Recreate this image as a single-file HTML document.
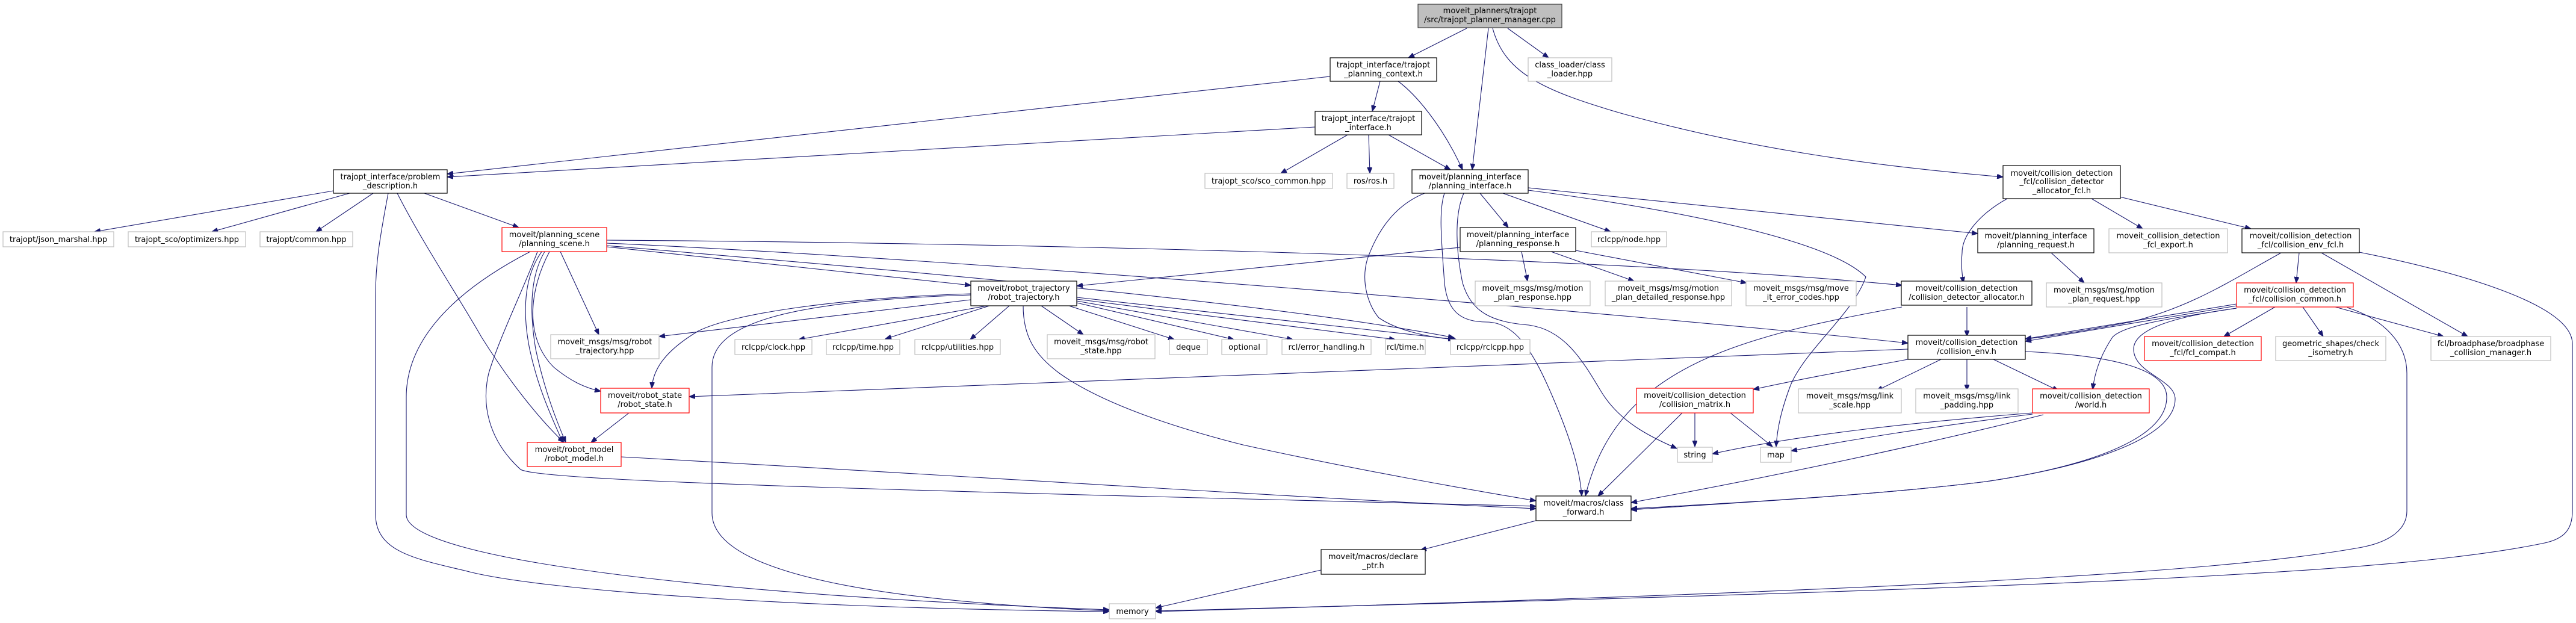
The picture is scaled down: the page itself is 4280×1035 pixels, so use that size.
<!DOCTYPE html>
<html><head><meta charset="utf-8"><style>
html,body{margin:0;padding:0;background:#fff;}
svg{display:block;}
text{font-family:"DejaVu Sans","Liberation Sans",sans-serif;font-size:13px;fill:#000;text-anchor:middle;}
.n{fill:#fff;stroke:#000;stroke-width:1.2;}
.r{fill:#fff;stroke:#ff0000;stroke-width:1.2;}
.g{fill:#fff;stroke:#bfbfbf;stroke-width:1.2;}
.e{fill:none;stroke:#191970;stroke-width:1.1;}
</style></head><body>
<svg width="4280" height="1035" viewBox="0 0 4280 1035" xmlns="http://www.w3.org/2000/svg">
<defs><marker id="a" markerUnits="userSpaceOnUse" markerWidth="11" markerHeight="8" refX="10" refY="4" orient="auto"><path d="M0,0 L10,4 L0,8 z" fill="#191970" stroke="#191970"/></marker></defs>
<g class="edges">
<!-- manager -->
<path class="e" marker-end="url(#a)" d="M2437,47 L2340,96"/>
<path class="e" marker-end="url(#a)" d="M2473,47 L2446,282"/>
<path class="e" marker-end="url(#a)" d="M2505,47 L2573,96"/>
<path class="e" marker-end="url(#a)" d="M2480,47 C2500,120 2560,150 2700,190 C2900,245 3100,275 3328,294"/>
<!-- planning_context -->
<path class="e" marker-end="url(#a)" d="M2210,127 L743,289"/>
<path class="e" marker-end="url(#a)" d="M2293,135 L2280,185"/>
<path class="e" marker-end="url(#a)" d="M2323,135 C2350,155 2395,205 2430,282"/>
<!-- trajopt_interface -->
<path class="e" marker-end="url(#a)" d="M2185,211 L743,294"/>
<path class="e" marker-end="url(#a)" d="M2239,224 L2128,288"/>
<path class="e" marker-end="url(#a)" d="M2274,224 L2276,288"/>
<path class="e" marker-end="url(#a)" d="M2307,224 L2410,282"/>
<!-- problem_description -->
<path class="e" marker-end="url(#a)" d="M554,317 L157,385"/>
<path class="e" marker-end="url(#a)" d="M581,321 L352,385"/>
<path class="e" marker-end="url(#a)" d="M620,321 L525,385"/>
<path class="e" marker-end="url(#a)" d="M705,321 L862,378"/>
<path class="e" marker-end="url(#a)" d="M645,321 C630,400 624,440 624,490 L624,855 C624,920 700,930 780,950 C900,980 1300,1010 1843,1016"/>
<path class="e" marker-end="url(#a)" d="M660,321 C700,400 760,490 800,560 C850,640 900,700 937,735"/>
<!-- planning_scene -->
<path class="e" marker-end="url(#a)" d="M931,418 L995,556"/>
<path class="e" marker-end="url(#a)" d="M913,418 C880,480 870,560 920,610 C950,635 975,645 998,650"/>
<path class="e" marker-end="url(#a)" d="M900,418 C870,460 868,520 880,580 C895,650 920,700 935,735"/>
<path class="e" marker-end="url(#a)" d="M905,418 C880,460 880,520 890,580 C905,650 925,700 940,735"/>
<path class="e" marker-end="url(#a)" d="M893,418 C870,480 830,560 812,620 C800,670 810,730 865,780 C900,800 1500,815 2552,841"/>
<path class="e" marker-end="url(#a)" d="M881,418 C800,460 675,540 675,660 L675,855 C675,930 1200,990 1843,1013"/>
<path class="e" marker-end="url(#a)" d="M1008,410 L1613,474"/>
<path class="e" marker-end="url(#a)" d="M1008,399 C1500,402 2600,420 3160,474"/>
<path class="e" marker-end="url(#a)" d="M1008,404 C1600,430 2700,520 3170,570"/>
<path class="e" marker-end="url(#a)" d="M1008,408 C1500,450 2100,500 2416,561"/>
<!-- robot_trajectory -->
<path class="e" marker-end="url(#a)" d="M1613,498 L1095,559"/>
<path class="e" marker-end="url(#a)" d="M1640,508 L1327,564"/>
<path class="e" marker-end="url(#a)" d="M1644,508 L1471,563"/>
<path class="e" marker-end="url(#a)" d="M1677,508 L1612,564"/>
<path class="e" marker-end="url(#a)" d="M1730,508 L1800,556"/>
<path class="e" marker-end="url(#a)" d="M1776,508 L1951,564"/>
<path class="e" marker-end="url(#a)" d="M1789,503 L2050,564"/>
<path class="e" marker-end="url(#a)" d="M1789,500 L2148,564"/>
<path class="e" marker-end="url(#a)" d="M1789,497 L2318,564"/>
<path class="e" marker-end="url(#a)" d="M1789,494 L2420,564"/>
<path class="e" marker-end="url(#a)" d="M1613,488 C1400,495 1220,520 1160,550 C1110,580 1085,610 1083,645"/>
<path class="e" marker-end="url(#a)" d="M1613,490 C1300,500 1183,540 1183,610 L1183,852 C1183,960 1500,1000 1843,1015"/>
<path class="e" marker-end="url(#a)" d="M1700,508 C1700,560 1720,590 1760,620 C1830,670 1950,710 2065,739 C2250,780 2450,815 2552,832"/>
<!-- planning_interface -->
<path class="e" marker-end="url(#a)" d="M2459,321 L2506,378"/>
<path class="e" marker-end="url(#a)" d="M2497,321 L2676,385"/>
<path class="e" marker-end="url(#a)" d="M2539,312 L3286,388"/>
<path class="e" marker-end="url(#a)" d="M2367,321 C2320,340 2290,380 2272,430 C2260,470 2275,510 2291,528 C2320,548 2370,560 2416,564"/>
<path class="e" marker-end="url(#a)" d="M2400,321 C2390,350 2395,400 2400,470 C2405,520 2430,535 2470,535 C2520,535 2550,590 2580,660 C2610,730 2625,780 2628,824"/>
<path class="e" marker-end="url(#a)" d="M2432,321 C2415,360 2420,420 2430,470 C2445,520 2480,535 2540,540 C2600,548 2630,600 2660,650 C2690,700 2740,725 2786,745"/>
<path class="e" marker-end="url(#a)" d="M2539,316 C2800,350 3040,400 3100,460 C3080,520 3000,580 2975,640 C2960,680 2953,710 2951,742"/>
<!-- planning_response -->
<path class="e" marker-end="url(#a)" d="M2528,418 L2538,467"/>
<path class="e" marker-end="url(#a)" d="M2577,418 L2715,467"/>
<path class="e" marker-end="url(#a)" d="M2618,416 L2902,470"/>
<path class="e" marker-end="url(#a)" d="M2426,411 L1789,475"/>
<!-- allocator_fcl -->
<path class="e" marker-end="url(#a)" d="M3335,330 C3290,355 3260,390 3260,420 C3258,440 3260,455 3262,470"/>
<path class="e" marker-end="url(#a)" d="M3475,330 L3560,380"/>
<path class="e" marker-end="url(#a)" d="M3522,327 L3740,380"/>
<path class="e" marker-end="url(#a)" d="M3408,420 L3463,470"/>
<!-- collision_env_fcl -->
<path class="e" marker-end="url(#a)" d="M3820,420 L3815,470"/>
<path class="e" marker-end="url(#a)" d="M3790,420 C3700,470 3640,510 3540,535 C3460,550 3400,560 3365,563"/>
<path class="e" marker-end="url(#a)" d="M3857,420 L4100,559"/>
<path class="e" marker-end="url(#a)" d="M3920,419 C4050,445 4274,500 4274,571 L4274,849 C4274,880 4260,895 4228,902 C4000,950 3500,975 1920,1015"/>
<!-- collision_detector_allocator -->
<path class="e" marker-end="url(#a)" d="M3268,510 L3268,559"/>
<path class="e" marker-end="url(#a)" d="M3160,510 C3050,530 2950,550 2860,585 C2720,640 2660,720 2634,824"/>
<!-- collision_common -->
<path class="e" marker-end="url(#a)" d="M3716,505 L3365,563"/>
<path class="e" marker-end="url(#a)" d="M3716,508 L3365,567"/>
<path class="e" marker-end="url(#a)" d="M3780,510 L3695,559"/>
<path class="e" marker-end="url(#a)" d="M3826,510 L3860,559"/>
<path class="e" marker-end="url(#a)" d="M3880,510 L4060,559"/>
<path class="e" marker-end="url(#a)" d="M3716,512 C3600,530 3530,540 3510,560 C3490,590 3480,620 3477,647"/>
<path class="e" marker-end="url(#a)" d="M3716,512 C3620,525 3545,545 3545,580 C3545,620 3614,630 3614,663 C3614,720 3500,770 3300,800 C3100,825 2800,840 2710,847"/>
<path class="e" marker-end="url(#a)" d="M3900,511 C3960,530 3999,570 3999,620 L3999,849 C3999,880 3970,900 3925,909 C3700,950 3200,980 1920,1016"/>
<!-- collision_env -->
<path class="e" marker-end="url(#a)" d="M3170,580 C2700,598 2000,620 1145,659"/>
<path class="e" marker-end="url(#a)" d="M3225,597 L3118,649"/>
<path class="e" marker-end="url(#a)" d="M3268,597 L3268,649"/>
<path class="e" marker-end="url(#a)" d="M3312,597 L3420,649"/>
<path class="e" marker-end="url(#a)" d="M3170,597 C3090,612 3000,628 2913,647"/>
<path class="e" marker-end="url(#a)" d="M3365,584 C3500,590 3600,610 3600,660 C3600,720 3500,770 3300,800 C3100,825 2800,840 2710,845"/>
<!-- world -->
<path class="e" marker-end="url(#a)" d="M3377,686 C3200,700 3000,720 2845,754"/>
<path class="e" marker-end="url(#a)" d="M3377,688 C3200,710 3080,730 2976,749"/>
<path class="e" marker-end="url(#a)" d="M3395,689 C3150,750 2900,800 2710,835"/>
<!-- collision_matrix -->
<path class="e" marker-end="url(#a)" d="M2816,686 L2816,742"/>
<path class="e" marker-end="url(#a)" d="M2875,686 L2945,742"/>
<path class="e" marker-end="url(#a)" d="M2795,686 L2655,824"/>
<!-- misc -->
<path class="e" marker-end="url(#a)" d="M2552,865 L2360,914"/>
<path class="e" marker-end="url(#a)" d="M2195,947 L1920,1010"/>
<path class="e" marker-end="url(#a)" d="M1045,686 L982,735"/>
<path class="e" marker-end="url(#a)" d="M1032,759 C1600,790 2200,830 2552,845"/>
</g>
<g class="nodes">
<rect x="2356" y="7" width="239" height="39" fill="#bfbfbf" stroke="#404040" stroke-width="1.2"/>
<text x="2475.5" y="22">moveit_planners/trajopt</text><text x="2475.5" y="37">/src/trajopt_planner_manager.cpp</text>

<rect class="n" x="2210" y="96" width="177" height="39"/><text x="2298.5" y="112">trajopt_interface/trajopt</text><text x="2298.5" y="127">_planning_context.h</text>
<rect class="g" x="2539" y="96" width="139" height="39"/><text x="2608.5" y="112">class_loader/class</text><text x="2608.5" y="127">_loader.hpp</text>
<rect class="n" x="2185" y="185" width="177" height="39"/><text x="2273.5" y="201">trajopt_interface/trajopt</text><text x="2273.5" y="216">_interface.h</text>

<rect class="n" x="554" y="282" width="189" height="39"/><text x="648.5" y="298">trajopt_interface/problem</text><text x="648.5" y="313">_description.h</text>
<rect class="n" x="2346" y="282" width="193" height="39"/><text x="2442.5" y="298">moveit/planning_interface</text><text x="2442.5" y="313">/planning_interface.h</text>
<rect class="g" x="2002" y="288" width="212" height="25"/><text x="2108" y="305">trajopt_sco/sco_common.hpp</text>
<rect class="g" x="2238" y="288" width="78" height="25"/><text x="2277" y="305">ros/ros.h</text>
<rect class="n" x="3328" y="275" width="195" height="55"/><text x="3425.5" y="292">moveit/collision_detection</text><text x="3425.5" y="306">_fcl/collision_detector</text><text x="3425.5" y="321">_allocator_fcl.h</text>

<rect class="g" x="5" y="385" width="184" height="25"/><text x="97" y="402">trajopt/json_marshal.hpp</text>
<rect class="g" x="213" y="385" width="195" height="25"/><text x="310.5" y="402">trajopt_sco/optimizers.hpp</text>
<rect class="g" x="432" y="385" width="154" height="25"/><text x="509" y="402">trajopt/common.hpp</text>
<rect class="r" x="834" y="378" width="174" height="40"/><text x="921" y="394">moveit/planning_scene</text><text x="921" y="409">/planning_scene.h</text>
<rect class="n" x="2426" y="378" width="192" height="40"/><text x="2522" y="394">moveit/planning_interface</text><text x="2522" y="409">/planning_response.h</text>
<rect class="g" x="2644" y="385" width="125" height="25"/><text x="2706.5" y="402">rclcpp/node.hpp</text>
<rect class="n" x="3286" y="380" width="193" height="40"/><text x="3382.5" y="396">moveit/planning_interface</text><text x="3382.5" y="411">/planning_request.h</text>
<rect class="g" x="3504" y="380" width="197" height="40"/><text x="3602.5" y="396">moveit_collision_detection</text><text x="3602.5" y="411">_fcl_export.h</text>
<rect class="n" x="3725" y="380" width="195" height="40"/><text x="3822.5" y="396">moveit/collision_detection</text><text x="3822.5" y="411">_fcl/collision_env_fcl.h</text>

<rect class="n" x="1613" y="467" width="176" height="41"/><text x="1701" y="483">moveit/robot_trajectory</text><text x="1701" y="498">/robot_trajectory.h</text>
<rect class="g" x="2451" y="467" width="191" height="41"/><text x="2546.5" y="483">moveit_msgs/msg/motion</text><text x="2546.5" y="498">_plan_response.hpp</text>
<rect class="g" x="2667" y="467" width="210" height="41"/><text x="2772" y="483">moveit_msgs/msg/motion</text><text x="2772" y="498">_plan_detailed_response.hpp</text>
<rect class="g" x="2901" y="467" width="183" height="41"/><text x="2992.5" y="483">moveit_msgs/msg/move</text><text x="2992.5" y="498">_it_error_codes.hpp</text>
<rect class="n" x="3159" y="467" width="217" height="40"/><text x="3267.5" y="483">moveit/collision_detection</text><text x="3267.5" y="498">/collision_detector_allocator.h</text>
<rect class="g" x="3400" y="470" width="192" height="40"/><text x="3496" y="486">moveit_msgs/msg/motion</text><text x="3496" y="501">_plan_request.hpp</text>
<rect class="r" x="3716" y="470" width="194" height="40"/><text x="3813" y="486">moveit/collision_detection</text><text x="3813" y="501">_fcl/collision_common.h</text>

<rect class="g" x="915" y="556" width="180" height="40"/><text x="1005" y="572">moveit_msgs/msg/robot</text><text x="1005" y="587">_trajectory.hpp</text>
<rect class="g" x="1221" y="564" width="128" height="25"/><text x="1285" y="581">rclcpp/clock.hpp</text>
<rect class="g" x="1373" y="564" width="122" height="25"/><text x="1434" y="581">rclcpp/time.hpp</text>
<rect class="g" x="1520" y="564" width="142" height="25"/><text x="1591" y="581">rclcpp/utilities.hpp</text>
<rect class="g" x="1740" y="556" width="179" height="40"/><text x="1829.5" y="572">moveit_msgs/msg/robot</text><text x="1829.5" y="587">_state.hpp</text>
<rect class="g" x="1943" y="564" width="63" height="25"/><text x="1974.5" y="581">deque</text>
<rect class="g" x="2030" y="564" width="75" height="25"/><text x="2067.5" y="581">optional</text>
<rect class="g" x="2130" y="564" width="148" height="25"/><text x="2204" y="581">rcl/error_handling.h</text>
<rect class="g" x="2302" y="564" width="66" height="25"/><text x="2335" y="581">rcl/time.h</text>
<rect class="g" x="2410" y="564" width="132" height="25"/><text x="2476" y="581">rclcpp/rclcpp.hpp</text>
<rect class="n" x="3170" y="557" width="195" height="40"/><text x="3267.5" y="573">moveit/collision_detection</text><text x="3267.5" y="588">/collision_env.h</text>
<rect class="r" x="3563" y="559" width="194" height="40"/><text x="3660" y="575">moveit/collision_detection</text><text x="3660" y="590">_fcl/fcl_compat.h</text>
<rect class="g" x="3781" y="559" width="183" height="40"/><text x="3872.5" y="575">geometric_shapes/check</text><text x="3872.5" y="590">_isometry.h</text>
<rect class="g" x="4039" y="559" width="199" height="40"/><text x="4138.5" y="575">fcl/broadphase/broadphase</text><text x="4138.5" y="590">_collision_manager.h</text>

<rect class="r" x="998" y="645" width="147" height="41"/><text x="1071.5" y="661">moveit/robot_state</text><text x="1071.5" y="676">/robot_state.h</text>
<rect class="r" x="2719" y="645" width="194" height="41"/><text x="2816" y="661">moveit/collision_detection</text><text x="2816" y="676">/collision_matrix.h</text>
<rect class="g" x="2988" y="646" width="171" height="40"/><text x="3073.5" y="662">moveit_msgs/msg/link</text><text x="3073.5" y="677">_scale.hpp</text>
<rect class="g" x="3183" y="646" width="170" height="40"/><text x="3268" y="662">moveit_msgs/msg/link</text><text x="3268" y="677">_padding.hpp</text>
<rect class="r" x="3377" y="646" width="194" height="40"/><text x="3474" y="662">moveit/collision_detection</text><text x="3474" y="677">/world.h</text>
<rect class="r" x="876" y="735" width="156" height="40"/><text x="954" y="751">moveit/robot_model</text><text x="954" y="766">/robot_model.h</text>
<rect class="g" x="2787" y="743" width="58" height="25"/><text x="2816" y="760">string</text>
<rect class="g" x="2925" y="743" width="51" height="25"/><text x="2950.5" y="760">map</text>
<rect class="n" x="2552" y="824" width="158" height="41"/><text x="2631" y="840">moveit/macros/class</text><text x="2631" y="855">_forward.h</text>
<rect class="n" x="2195" y="913" width="173" height="41"/><text x="2281.5" y="929">moveit/macros/declare</text><text x="2281.5" y="944">_ptr.h</text>
<rect class="g" x="1843" y="1003" width="77" height="25"/><text x="1881.5" y="1020">memory</text>
</g>
</svg>
</body></html>
